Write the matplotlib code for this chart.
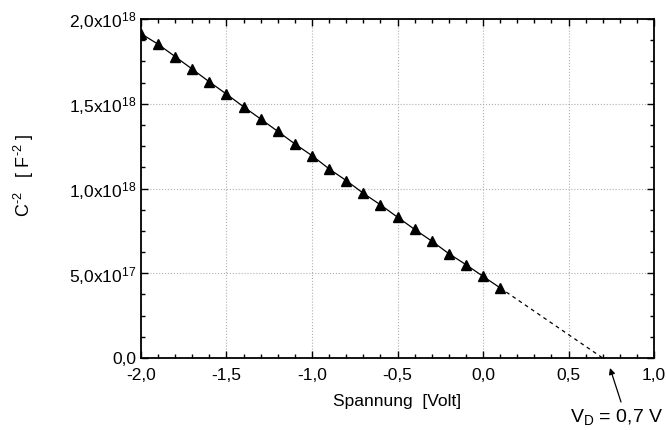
import matplotlib
matplotlib.use("Agg")
import matplotlib.pyplot as plt
from matplotlib.ticker import MultipleLocator, FuncFormatter

plt.rcParams['font.family'] = ['Liberation Sans', 'DejaVu Sans']
plt.rcParams['mathtext.fontset'] = 'custom'
plt.rcParams['mathtext.rm'] = 'Liberation Sans'
plt.rcParams['mathtext.it'] = 'Liberation Sans'
plt.rcParams['axes.unicode_minus'] = False

# Messwerte: Spannung [V] und C^-2 [F^-2]
spannung = [-2.0, -1.9, -1.8, -1.7, -1.6, -1.5, -1.4, -1.3, -1.2, -1.1, -1.0,
            -0.9, -0.8, -0.7, -0.6, -0.5, -0.4, -0.3, -0.2, -0.1, 0.0, 0.1]
c_minus2 = [1.914e18, 1.851e18, 1.778e18, 1.704e18, 1.629e18, 1.557e18,
            1.482e18, 1.410e18, 1.337e18, 1.263e18, 1.194e18, 1.116e18,
            1.047e18, 0.972e18, 0.904e18, 0.831e18, 0.759e18, 0.690e18,
            0.616e18, 0.551e18, 0.482e18, 0.414e18]
v_d = 0.7  # Diffusionsspannung (Extrapolation)

fig = plt.figure(figsize=(6.66, 4.30), dpi=100)
ax = fig.add_axes([0.2117, 0.1674, 0.7703, 0.7884])

ax.plot(spannung, c_minus2, color='black', lw=0.9, marker='^', ms=7,
        markerfacecolor='black', markeredgecolor='black')
# Extrapolation bis C^-2 = 0
ax.plot([spannung[-1], v_d], [c_minus2[-1], 0], color='black', lw=0.9,
        ls=(0, (3, 3)))

ax.set_xlim(-2.0, 1.0)
ax.set_ylim(0, 2.0e18)
ax.xaxis.set_major_locator(MultipleLocator(0.5))
ax.xaxis.set_minor_locator(MultipleLocator(0.1))
ax.yaxis.set_major_locator(MultipleLocator(0.5e18))
ax.yaxis.set_minor_locator(MultipleLocator(0.125e18))


def fmt_x(v, pos):
    return f'{v:.1f}'.replace('.', ',')


def fmt_y(v, pos):
    if abs(v) < 1:
        return '0,0'
    exp = 17 if v < 1e18 else 18
    mant = f'{v / 10**exp:.1f}'.replace('.', '{,}')
    return f'${mant}\\mathrm{{x}}10^{{{exp}}}$'


ax.xaxis.set_major_formatter(FuncFormatter(fmt_x))
ax.yaxis.set_major_formatter(FuncFormatter(fmt_y))

ax.tick_params(which='both', direction='in', top=True, right=True,
               labelsize=12.5, width=1)
ax.tick_params(which='major', length=5)
ax.tick_params(which='minor', length=3)
ax.tick_params(axis='x', which='major', pad=7)
for s in ax.spines.values():
    s.set_linewidth(1.3)

ax.grid(True, which='major', color='#b0b0b0', ls=':', lw=0.8)
ax.set_axisbelow(True)

ax.set_xlabel('Spannung  [Volt]', fontsize=12.5, labelpad=8)
ax.set_ylabel('$\\mathrm{C}^{\\text{-}2}$   [ $\\mathrm{F}^{\\text{-}2}$ ]',
              fontsize=13)
ax.yaxis.set_label_coords(-0.205, 0.54)

# Pfeil und Beschriftung fuer V_D
ax.annotate('', xy=(610, 62), xytext=(621, 28), xycoords='figure pixels',
            textcoords='figure pixels', annotation_clip=False,
            arrowprops=dict(arrowstyle='-|>', color='black', lw=0.9,
                            shrinkA=0, shrinkB=0, mutation_scale=9))
fig.text(570, 8, '$\\mathrm{V_D}$ = 0,7 V', fontsize=14,
         transform=None)

fig.savefig('out.png', dpi=100)
